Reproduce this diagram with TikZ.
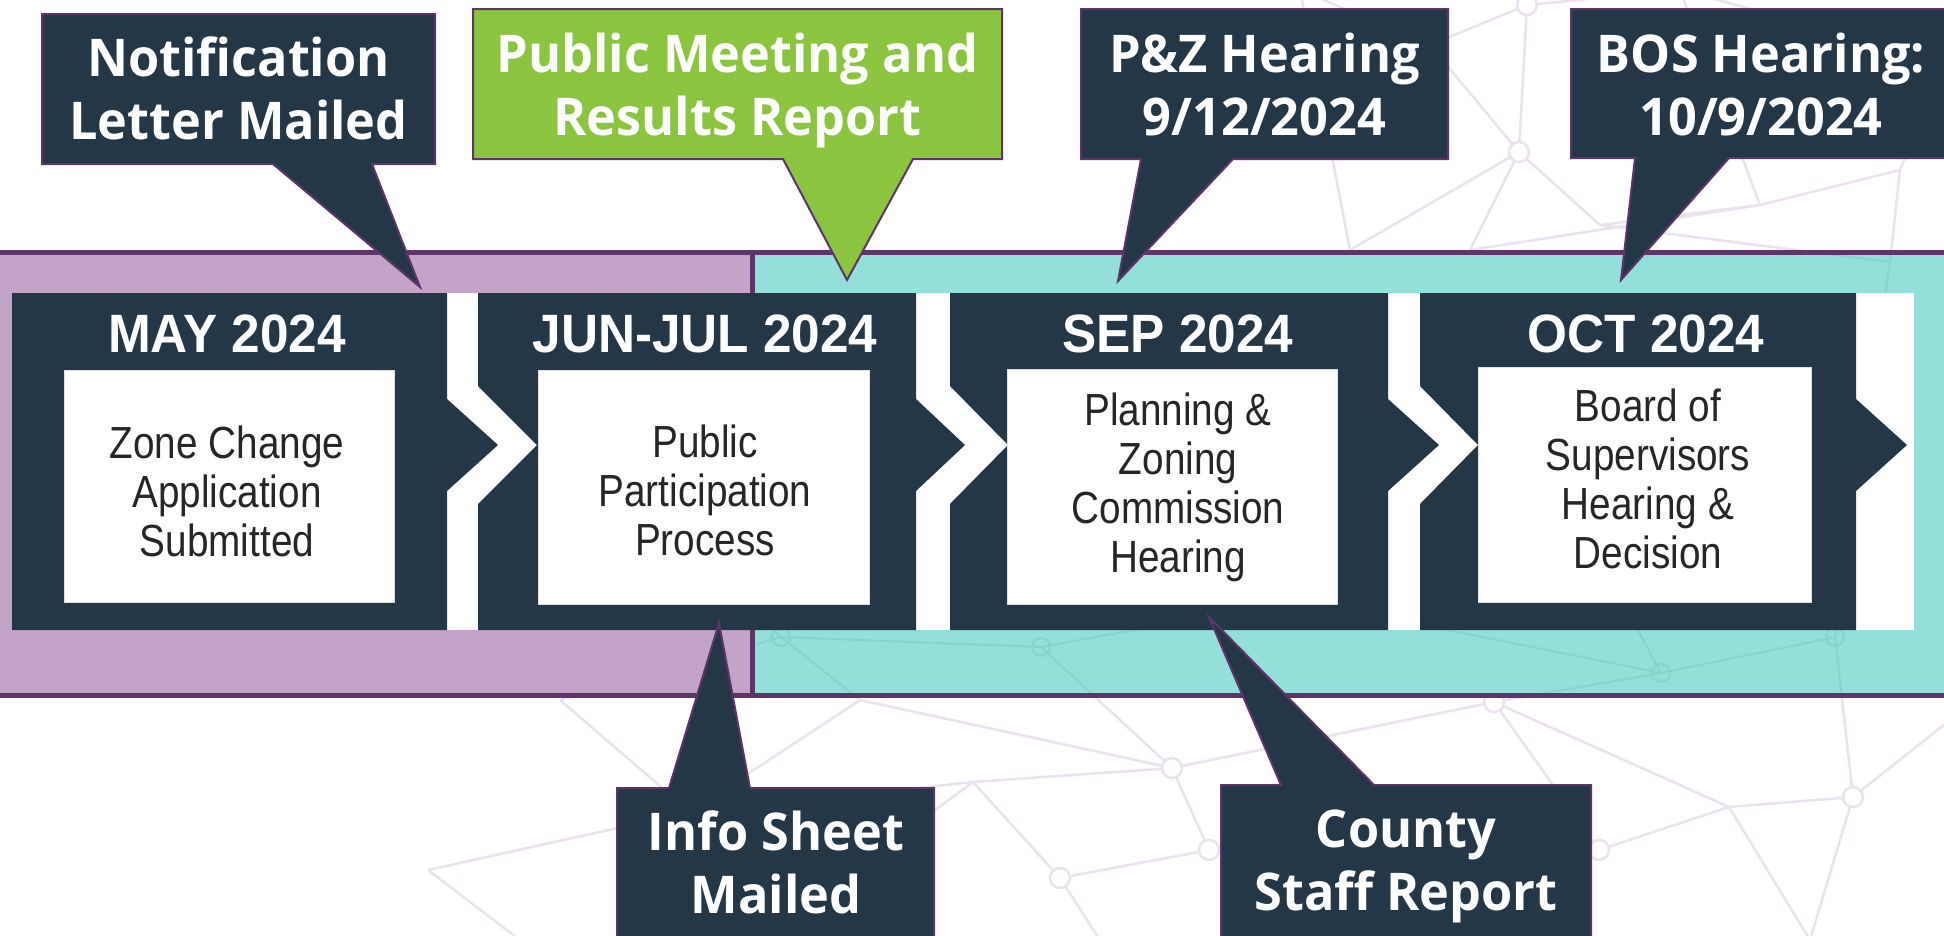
\documentclass[tikz,border=0pt]{standalone}
\usepackage{fontspec}
\newfontfamily\calloutfont{Open Sans}[FakeStretch=0.97]
\newfontfamily\headfont{Liberation Sans}[FakeStretch=0.95]
\newfontfamily\innerfont{Liberation Sans}[FakeStretch=0.86]
\usetikzlibrary{calc}
\definecolor{slate}{HTML}{243746}
\definecolor{lilac}{HTML}{C3A3C7}
\definecolor{tealband}{HTML}{93DFDA}
\definecolor{bandline}{HTML}{5F3469}
\definecolor{leaf}{HTML}{8BC53F}
\definecolor{netline}{HTML}{EAE2ED}
\definecolor{netteal}{HTML}{88D3CE}
\definecolor{innertext}{HTML}{262626}
\newcommand\mynetedges[1]{%
  \draw[#1] (t1)--(t2) (t1)--(t3) (t3)--(t2) (t2)--(t4) (t2)--(t5) (t2)--(t10)
    (t5)--(t6) (t6)--(t7) (t7)--(t8) (t7)--(t9) (t5)--(t9) (t6)--(t4) (t1)--(t11) (t11)--(t6) (t11)--(t8)
    (t3)--(t12) (t12)--(t10)
    (b1)--(b2) (b1)--(b15) (b2)--(b3) (b2)--(b12) (b3)--(b4) (b3)--(b6) (b3)--(b17)
    (b4)--(b7) (b4)--(b5) (b5)--(b6) (b6)--(b16) (b5)--(b8) (b4)--(b12) (b7)--(b9)
    (b7)--(b8) (b8)--(b9) (b9)--(b10) (b10)--(b14) (b9)--(b11) (b8)--(b13) (b10)--(b11)
    (b12)--(m1) (m1)--(m2) (b4)--(m2) (m2)--(m5) (b7)--(m3) (m3)--(m4) (b10)--(m4) (m3)--(m5)
    (m1)--(m6) (m4)--(t9) (m3)--(m7) (m5)--(m7) (b2)--(m8) (m8)--(m1);}
\begin{document}
\begin{tikzpicture}[x=1pt,y=-1pt,
  band/.style={draw=bandline, line width=5pt},
  stepshape/.style={fill=slate},
  innerbox/.style={fill=white, draw=black!12, line width=0.8pt, inner sep=0},
  headtext/.style={anchor=base, text=white, font=\headfont\bfseries\fontsize{54}{60}\selectfont, inner sep=0},
  innertxt/.style={anchor=base, text=innertext, font=\innerfont\fontsize{45}{49}\selectfont, inner sep=0},
  cbox/.style={draw=bandline, line width=2pt, fill=slate, line join=miter},
  gbox/.style={cbox, fill=leaf},
  ctext/.style={anchor=base, text=white, font=\calloutfont\bfseries\fontsize{52}{63}\selectfont, inner sep=0},
  netstyle/.style={draw=netline, line width=2.5pt},
  netdot/.style={draw=netline, fill=white, line width=2.5pt}
]
\useasboundingbox (0,0) rectangle (1944,935);
\clip (0,0) rectangle (1944,935);
\fill[white] (0,0) rectangle (1944,935);

% background network points
\coordinate (t1) at (1527,5);   \coordinate (t2) at (1519,152);
\coordinate (t3) at (1430,45);  \coordinate (t4) at (1470,250);
\coordinate (t5) at (1600,225); \coordinate (t6) at (1760,205);
\coordinate (t7) at (1900,170); \coordinate (t8) at (1944,60);
\coordinate (t9) at (1890,262); \coordinate (t10) at (1350,250);
\coordinate (t11) at (1680,-10); \coordinate (t12) at (1300,-10);
\coordinate (b1) at (428,870);  \coordinate (b2) at (690,812);
\coordinate (b3) at (973,782);  \coordinate (b4) at (1172,768);
\coordinate (b5) at (1209,850); \coordinate (b6) at (1060,878);
\coordinate (b7) at (1494,702); \coordinate (b8) at (1599,850);
\coordinate (b9) at (1729,807); \coordinate (b10) at (1853,797);
\coordinate (b11) at (1810,940); \coordinate (b12) at (860,700);
\coordinate (b13) at (1340,940); \coordinate (b14) at (1950,720);
\coordinate (b15) at (520,940); \coordinate (b16) at (1100,940);
\coordinate (b17) at (760,940);
\coordinate (m1) at (781,637);  \coordinate (m2) at (1041,647);
\coordinate (m3) at (1661,673); \coordinate (m4) at (1835,637);
\coordinate (m5) at (1300,600); \coordinate (m6) at (700,560);
\coordinate (m7) at (1600,560); \coordinate (m8) at (560,700);

\mynetedges{netstyle}
\foreach \p in {t1,t2,b4,b5,b6,b7,b8,b10}{\draw[netdot] (\p) circle (10);}

% bands
\path[band, fill=lilac] (-10,252) rectangle (752,695);
\path[band, fill=tealband] (752,252) rectangle (1960,695);
\begin{scope}
  \clip (755,255) rectangle (1944,692);
  \mynetedges{draw=netteal, line width=2pt}
  \foreach \p in {m1,m2,m3,m4}{\draw[netteal, line width=2pt] (\p) circle (9);}
\end{scope}

% timeline strip
\fill[white] (12,293) rectangle (1914,630);
\path[stepshape] (12,293) -- (447,293) -- (447,399) -- (498,445) -- (447,491) -- (447,630) -- (12,630) -- cycle;
\path[stepshape] (478,293) -- (916,293) -- (916,399) -- (965,445) -- (916,491) -- (916,630) -- (478,630) -- (478,504) -- (537,445) -- (478,386) -- cycle;
\path[stepshape] (950,293) -- (1388,293) -- (1388,399) -- (1439,445) -- (1388,491) -- (1388,630) -- (950,630) -- (950,504) -- (1008,445) -- (950,386) -- cycle;
\path[stepshape] (1420,293) -- (1856,293) -- (1856,399) -- (1907,445) -- (1856,491) -- (1856,630) -- (1420,630) -- (1420,504) -- (1478,445) -- (1420,386) -- cycle;

\node[innerbox, minimum width=330pt, minimum height=232pt] (maybox) at (229,486) {};
\node[innerbox, minimum width=331pt, minimum height=234pt] (junbox) at (703.5,487) {};
\node[innerbox, minimum width=330pt, minimum height=235pt] (sepbox) at (1172,486.5) {};
\node[innerbox, minimum width=333pt, minimum height=235pt] (octbox) at (1644.5,484.5) {};

\node[headtext] (mayhead) at (227,352) {MAY 2024};
\node[headtext] (junhead) at (705,352) {JUN-JUL 2024};
\node[headtext] (sephead) at (1178,352) {SEP 2024};
\node[headtext] (octhead) at (1646,352) {OCT 2024};

\node[innertxt] (maytxt) at (227,458) {\begin{tabular}[t]{@{}c@{}}Zone Change\\Application\\Submitted\end{tabular}};
\node[innertxt] (juntxt) at (705,457) {\begin{tabular}[t]{@{}c@{}}Public\\Participation\\Process\end{tabular}};
\node[innertxt] (septxt) at (1178,425) {\begin{tabular}[t]{@{}c@{}}Planning \&\\Zoning\\Commission\\Hearing\end{tabular}};
\node[innertxt] (octtxt) at (1648,421) {\begin{tabular}[t]{@{}c@{}}Board of\\Supervisors\\Hearing \&\\Decision\end{tabular}};

% callouts
\coordinate (tip1) at (420,287);
\coordinate (tip2) at (847,280);
\coordinate (tip3) at (1118,281);
\coordinate (tip4) at (1621,280);
\coordinate (tip5) at (719,623);
\coordinate (tip6) at (1209,617);

\path[cbox] (42,14) -- (435,14) -- (435,164) -- (372,164) -- (tip1) -- (273,164) -- (42,164) -- cycle;
\path[gbox] (473,9) -- (1002,9) -- (1002,159) -- (913,159) -- (tip2) -- (783,159) -- (473,159) -- cycle;
\path[cbox] (1081,9) -- (1448,9) -- (1448,159) -- (1233,159) -- (tip3) -- (1141,159) -- (1081,159) -- cycle;
\path[cbox] (1571,9) -- (1955,9) -- (1955,158) -- (1729,158) -- (tip4) -- (1635,158) -- (1571,158) -- cycle;
\path[cbox] (617,950) -- (617,788) -- (669,788) -- (tip5) -- (750,788) -- (934,788) -- (934,950);
\path[cbox] (1221,950) -- (1221,785) -- (1281,785) -- (tip6) -- (1374,785) -- (1591,785) -- (1591,950);

\node[ctext] (c1) at (238.5,76) {\begin{tabular}[t]{@{}c@{}}Notification\\Letter Mailed\end{tabular}};
\node[ctext] (c2) at (737.5,72) {\begin{tabular}[t]{@{}c@{}}Public Meeting and\\Results Report\end{tabular}};
\node[ctext] (c3) at (1264.5,72) {\begin{tabular}[t]{@{}c@{}}P\&Z Hearing\\9/12/2024\end{tabular}};
\node[ctext] (c4) at (1761,72) {\begin{tabular}[t]{@{}c@{}}BOS Hearing:\\10/9/2024\end{tabular}};
\node[ctext] (c5) at (776,850) {\begin{tabular}[t]{@{}c@{}}Info Sheet\\Mailed\end{tabular}};
\node[ctext] (c6) at (1406,847) {\begin{tabular}[t]{@{}c@{}}County\\Staff Report\end{tabular}};
\end{tikzpicture}
\end{document}
